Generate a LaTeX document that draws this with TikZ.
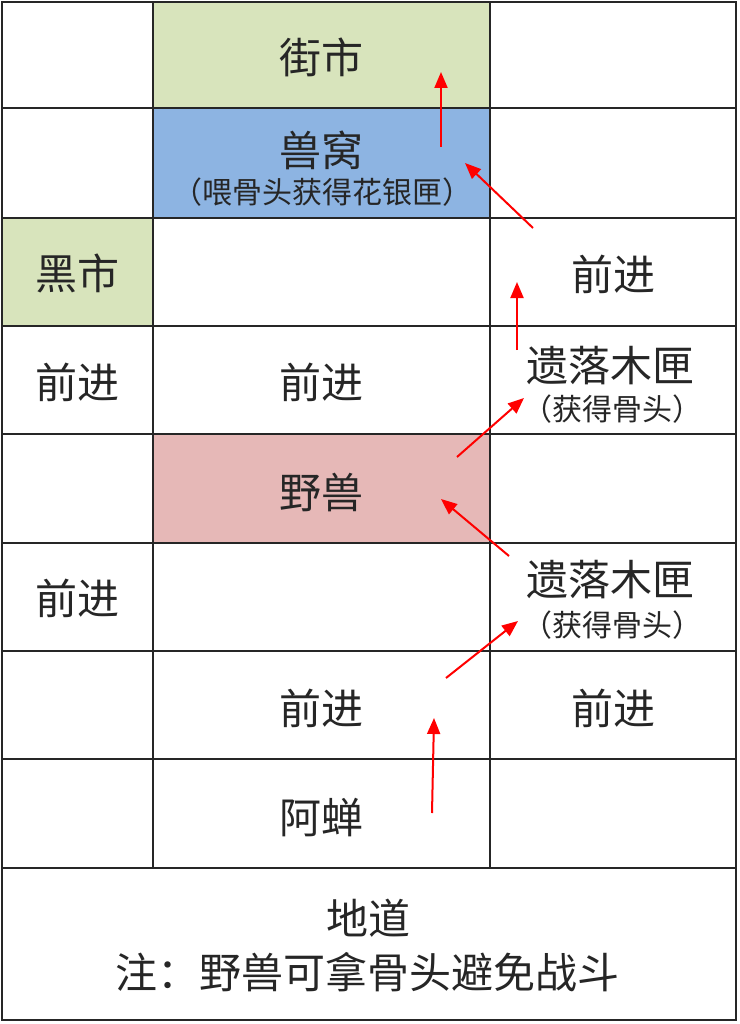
\documentclass[tikz,border=0pt]{standalone}
\usepackage{fontspec}
\setmainfont{Noto Sans CJK SC}
\usetikzlibrary{arrows.meta}
\definecolor{cgreen}{HTML}{D8E4BC}
\definecolor{cblue}{HTML}{8DB4E2}
\definecolor{cpink}{HTML}{E6B8B7}
\definecolor{txt}{HTML}{262626}
\tikzset{
  big/.style={font=\fontsize{42}{46}\selectfont, text=txt, inner sep=0pt},
  small/.style={font=\fontsize{30}{33}\selectfont, text=txt, inner sep=0pt},
  grid/.style={line width=1.8pt, black!85},
  redarrow/.style={draw=red, line width=2pt, -{Triangle[length=16pt,width=13pt]}}
}
\begin{document}
\begin{tikzpicture}[x=1pt,y=-1pt]
\useasboundingbox (0,0) rectangle (739,1024);
\fill[white] (0,0) rectangle (739,1024);
% coloured cells
\fill[cgreen] (153,2) rectangle (490,108);
\fill[cblue] (153,108) rectangle (490,218);
\fill[cgreen] (2,218) rectangle (153,326);
\fill[cpink] (153,434) rectangle (490,543);
% grid
\draw[grid] (2,2) rectangle (736,1020);
\foreach \y in {108,218,326,434,543,651,759,868} \draw[grid] (2,\y) -- (736,\y);
\draw[grid] (153,2) -- (153,868);
\draw[grid] (490,2) -- (490,868);
% texts
\node[big] (jieshi) at (321,57) {街市};
\node[big] (shouwo) at (321,150) {兽窝};
\node[small] (wei) at (322,192) {（喂骨头获得花银匣）};
\node[big] (heishi) at (77,273) {黑市};
\node[big] (qj1) at (613,274) {前进};
\node[big] (qj2) at (77,382) {前进};
\node[big] (qj3) at (321,382) {前进};
\node[big] (box1) at (610,366) {遗落木匣};
\node[small] (gt1) at (612,409) {（获得骨头）};
\node[big] (yeshou) at (321,492) {野兽};
\node[big] (qj4) at (77,598) {前进};
\node[big] (box2) at (610,580) {遗落木匣};
\node[small] (gt2) at (612,625) {（获得骨头）};
\node[big] (qj5) at (321,708) {前进};
\node[big] (qj6) at (613,708) {前进};
\node[big] (achan) at (321,817) {阿蝉};
\node[big] (didao) at (368,918) {地道};
\node[big] (note) at (367,972) {注：野兽可拿骨头避免战斗};
% arrow coordinates
\coordinate (a1s) at (441,147); \coordinate (a1e) at (441,72);
\coordinate (a2s) at (533,228); \coordinate (a2e) at (465,163);
\coordinate (a3s) at (517,350); \coordinate (a3e) at (517,282);
\coordinate (a4s) at (457,457); \coordinate (a4e) at (524,398);
\coordinate (a5s) at (509,556); \coordinate (a5e) at (441,499);
\coordinate (a6s) at (446,678); \coordinate (a6e) at (518,621);
\coordinate (a7s) at (432,813); \coordinate (a7e) at (434,718);
\foreach \i in {1,...,7} \draw[redarrow] (a\i s) -- (a\i e);
\end{tikzpicture}
\end{document}
